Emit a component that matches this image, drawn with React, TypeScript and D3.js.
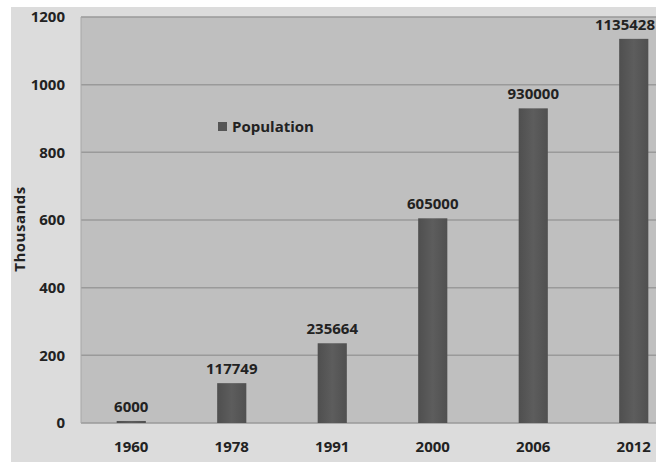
import React from "react";
import * as d3 from "d3";

const years = ["1960", "1978", "1991", "2000", "2006", "2012"];
const population = [6000, 117749, 235664, 605000, 930000, 1135428];
const yTicks = [0, 200, 400, 600, 800, 1000, 1200];
const seriesName = "Population";
const axisTitle = "Thousands";

const W = 656;
const H = 462;
const plot = { left: 81, top: 17, right: 684, bottom: 423 };
const font = "'Open Sans', 'DejaVu Sans', sans-serif";
const fs = 15;

export default function App() {
  const x = d3
    .scaleBand<string>()
    .domain(years)
    .range([plot.left, plot.right])
    .paddingInner(0.71)
    .paddingOuter(0.355);
  const y = d3.scaleLinear().domain([0, 1200]).range([plot.bottom, plot.top]);

  return (
    <svg
      width={W}
      height={H}
      style={{ position: "absolute", left: 0, top: 0, display: "block" }}
    >
      <defs>
        <linearGradient id="barFill" x1="0" x2="1" y1="0" y2="0">
          <stop offset="0" stopColor="#4f4f4f" />
          <stop offset="0.5" stopColor="#5d5d5d" />
          <stop offset="1" stopColor="#505050" />
        </linearGradient>
      </defs>
      <rect x={0} y={0} width={W} height={H} fill="#ffffff" />
      <rect x={11} y={7} width={W - 11} height={H - 7} fill="#dcdcdc" />
      <rect
        x={plot.left}
        y={plot.top}
        width={plot.right - plot.left}
        height={plot.bottom - plot.top}
        fill="#bfbfbf"
      />
      {yTicks.map((t) => (
        <line
          key={t}
          x1={plot.left}
          x2={plot.right}
          y1={y(t)}
          y2={y(t)}
          stroke="#9a9a9a"
          strokeWidth={1.5}
        />
      ))}
      <line
        x1={plot.left}
        x2={plot.left}
        y1={plot.top}
        y2={plot.bottom}
        stroke="#a8a8a8"
        strokeWidth={1}
      />
      {yTicks.map((t) => (
        <text
          key={t}
          x={65}
          y={y(t)}
          dy="0.35em"
          textAnchor="end"
          fontFamily={font}
          fontWeight="bold"
          fontSize={fs}
          fill="#222"
        >
          {t}
        </text>
      ))}
      <text
        transform={`translate(25,229) rotate(-90)`}
        textAnchor="middle"
        fontFamily={font}
        fontWeight="bold"
        fontSize={fs}
        letterSpacing={0.5}
        fill="#222"
      >
        {axisTitle}
      </text>
      {years.map((yr, i) => {
        const v = population[i] / 1000;
        const bx = x(yr)!;
        const cx = bx + x.bandwidth() / 2;
        // keep the value label inside the chart's right edge
        const labelX = Math.min(cx, 625);
        return (
          <g key={yr}>
            <rect
              x={bx}
              y={y(v)}
              width={x.bandwidth()}
              height={plot.bottom - y(v)}
              fill="url(#barFill)"
            />
            <text
              x={labelX}
              y={y(v) - 9}
              textAnchor="middle"
              fontFamily={font}
              fontWeight="bold"
              fontSize={fs}
              fill="#222"
            >
              {population[i]}
            </text>
            <text
              x={cx}
              y={447}
              dy="0.35em"
              textAnchor="middle"
              fontFamily={font}
              fontWeight="bold"
              fontSize={fs}
              fill="#222"
            >
              {yr}
            </text>
          </g>
        );
      })}
      <rect x={218} y={122} width={9} height={9} fill="#555" />
      <text
        x={232}
        y={127}
        dy="0.35em"
        fontFamily={font}
        fontWeight="bold"
        fontSize={fs}
        fill="#222"
      >
        {seriesName}
      </text>
    </svg>
  );
}
